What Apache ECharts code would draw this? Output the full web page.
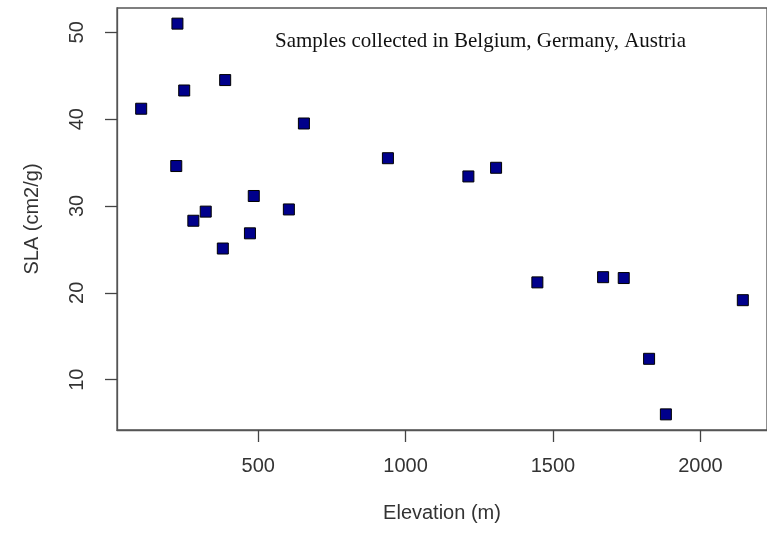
<!DOCTYPE html>
<html>
<head>
<meta charset="utf-8">
<script src="https://cdn.jsdelivr.net/npm/echarts@6/dist/echarts.min.js"></script>
<style>
html,body{margin:0;padding:0;background:#fff;}
#chart{width:767px;height:533px;}
</style>
</head>
<body>
<div id="chart"></div>
<script>
var elevation = [103, 226, 249, 388, 655, 222, 940, 1213, 1307, 485, 604, 322, 280, 472, 380, 1447, 1670, 1740, 2144, 1826, 1883];
var sla = [41.2, 51.0, 43.3, 44.5, 39.5, 34.6, 35.5, 33.4, 34.4, 31.15, 29.6, 29.35, 28.3, 26.85, 25.1, 21.2, 21.8, 21.7, 19.15, 12.4, 6.0];
var xTicks = [500, 1000, 1500, 2000];
var yTicks = [10, 20, 30, 40, 50];
var xTitle = 'Elevation (m)';
var yTitle = 'SLA (cm2/g)';
var note = 'Samples collected in Belgium, Germany, Austria';

var points = elevation.map(function (e, i) { return [e, sla[i]]; });
var lineCol = '#555';
var textCol = '#333';
var plain = function (v) { return String(v); };
var chart = echarts.init(document.getElementById('chart'));
chart.setOption({
  animation: false,
  backgroundColor: '#fff',
  grid: { left: 117, right: -9, top: 8, bottom: 103, show: true, borderColor: lineCol, borderWidth: 1.3, backgroundColor: 'transparent' },
  xAxis: {
    type: 'value', min: 21, max: 2226,
    splitLine: { show: false },
    axisLine: { show: true, onZero: false, lineStyle: { color: lineCol, width: 1.3 } },
    axisTick: { show: true, length: 12, customValues: xTicks, lineStyle: { color: '#444', width: 1.3 } },
    axisLabel: { customValues: xTicks, formatter: plain, margin: 26, fontFamily: 'Liberation Sans, Arial', fontSize: 20, color: textCol },
    name: xTitle, nameLocation: 'middle', nameGap: 73,
    nameTextStyle: { fontFamily: 'Liberation Sans, Arial', fontSize: 20, color: textCol }
  },
  yAxis: {
    type: 'value', min: 4.2, max: 52.8,
    splitLine: { show: false },
    axisLine: { show: true, onZero: false, lineStyle: { color: lineCol, width: 1.3 } },
    axisTick: { show: true, length: 12, customValues: yTicks, lineStyle: { color: '#444', width: 1.3 } },
    axisLabel: { customValues: yTicks, formatter: plain, margin: 30, rotate: 90, fontFamily: 'Liberation Sans, Arial', fontSize: 20, color: textCol },
    name: yTitle, nameLocation: 'middle', nameGap: 75, nameRotate: 90,
    nameTextStyle: { fontFamily: 'Liberation Sans, Arial', fontSize: 20, color: textCol }
  },
  graphic: [{
    type: 'text', left: 275, top: 31,
    style: { text: note, font: '21px "Liberation Serif", "Times New Roman", serif', fill: '#111' }
  }],
  series: [{
    type: 'scatter',
    data: points,
    symbol: 'rect',
    symbolSize: 11,
    itemStyle: { color: '#00008B', borderColor: '#000', borderWidth: 1, opacity: 1 }
  }]
});
</script>
</body>
</html>
